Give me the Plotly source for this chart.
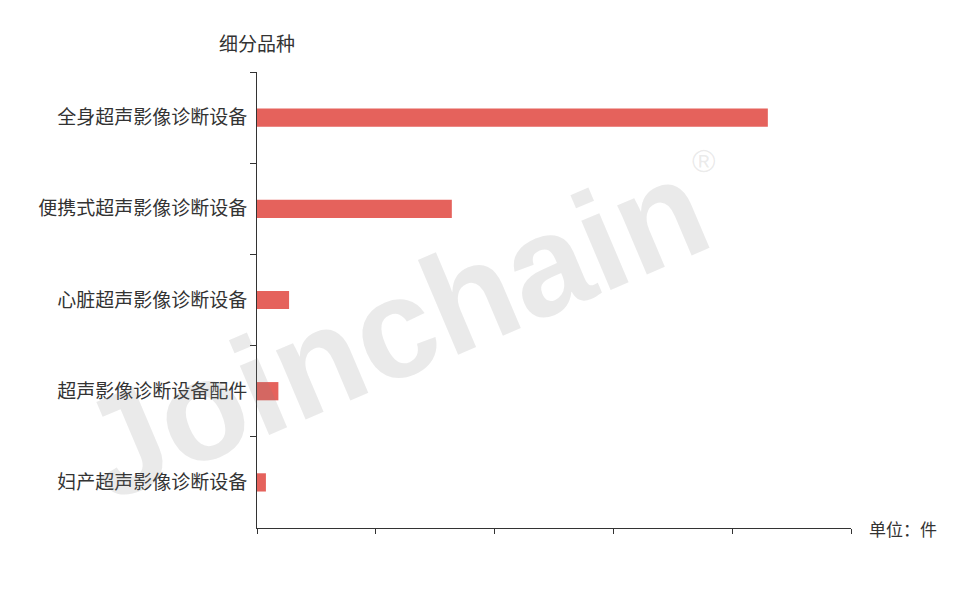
import plotly.graph_objects as go

categories = ["全身超声影像诊断设备", "便携式超声影像诊断设备", "心脏超声影像诊断设备", "超声影像诊断设备配件", "妇产超声影像诊断设备"]
values = [430, 164, 27, 18, 7.5]

FONT = "Noto Sans CJK SC"

fig = go.Figure()
fig.add_trace(go.Bar(
    y=categories, x=values, orientation="h",
    marker=dict(color="#e5625c", line=dict(width=0)),
    width=0.2,
))

fig.update_layout(
    width=955, height=599,
    margin=dict(l=249, r=112, t=64, b=79),
    paper_bgcolor="white", plot_bgcolor="white",
    font=dict(family=FONT, size=19, color="#333333"),
    showlegend=False,
    xaxis=dict(range=[0, 500], dtick=100, showticklabels=False, showgrid=False, zeroline=False,
               showline=True, linecolor="#333333", linewidth=1,
               ticks="outside", ticklen=5, tickcolor="#333333"),
    yaxis=dict(autorange="reversed", showgrid=False, zeroline=False,
               showline=True, linecolor="#333333", linewidth=1,
               ticks="outside", ticklen=6, tickcolor="#333333", tickson="boundaries",
               tickfont=dict(size=19, color="#333333"), ticklabelstandoff=5),
    annotations=[
        dict(text="细分品种", xref="paper", yref="paper", x=0, y=1, yshift=14,
             showarrow=False, xanchor="center", yanchor="bottom",
             font=dict(size=19, color="#333333")),
        dict(text="单位：件", xref="paper", yref="paper", x=1, y=0, xshift=16,
             showarrow=False, xanchor="left", yanchor="middle",
             font=dict(size=17, color="#333333")),
        dict(text="<b>Joinchain</b>", xref="paper", yref="paper", x=0.229, y=0.437,
             showarrow=False, textangle=-23, xanchor="center", yanchor="middle",
             font=dict(size=142, color="rgba(128,128,128,0.17)", family="Liberation Sans")),
        dict(text="®", xref="paper", yref="paper", x=0.752, y=0.805,
             showarrow=False, xanchor="center", yanchor="middle",
             font=dict(size=32, color="rgba(128,128,128,0.17)", family="Liberation Sans")),
    ],
)

fig.write_html("out.html")
